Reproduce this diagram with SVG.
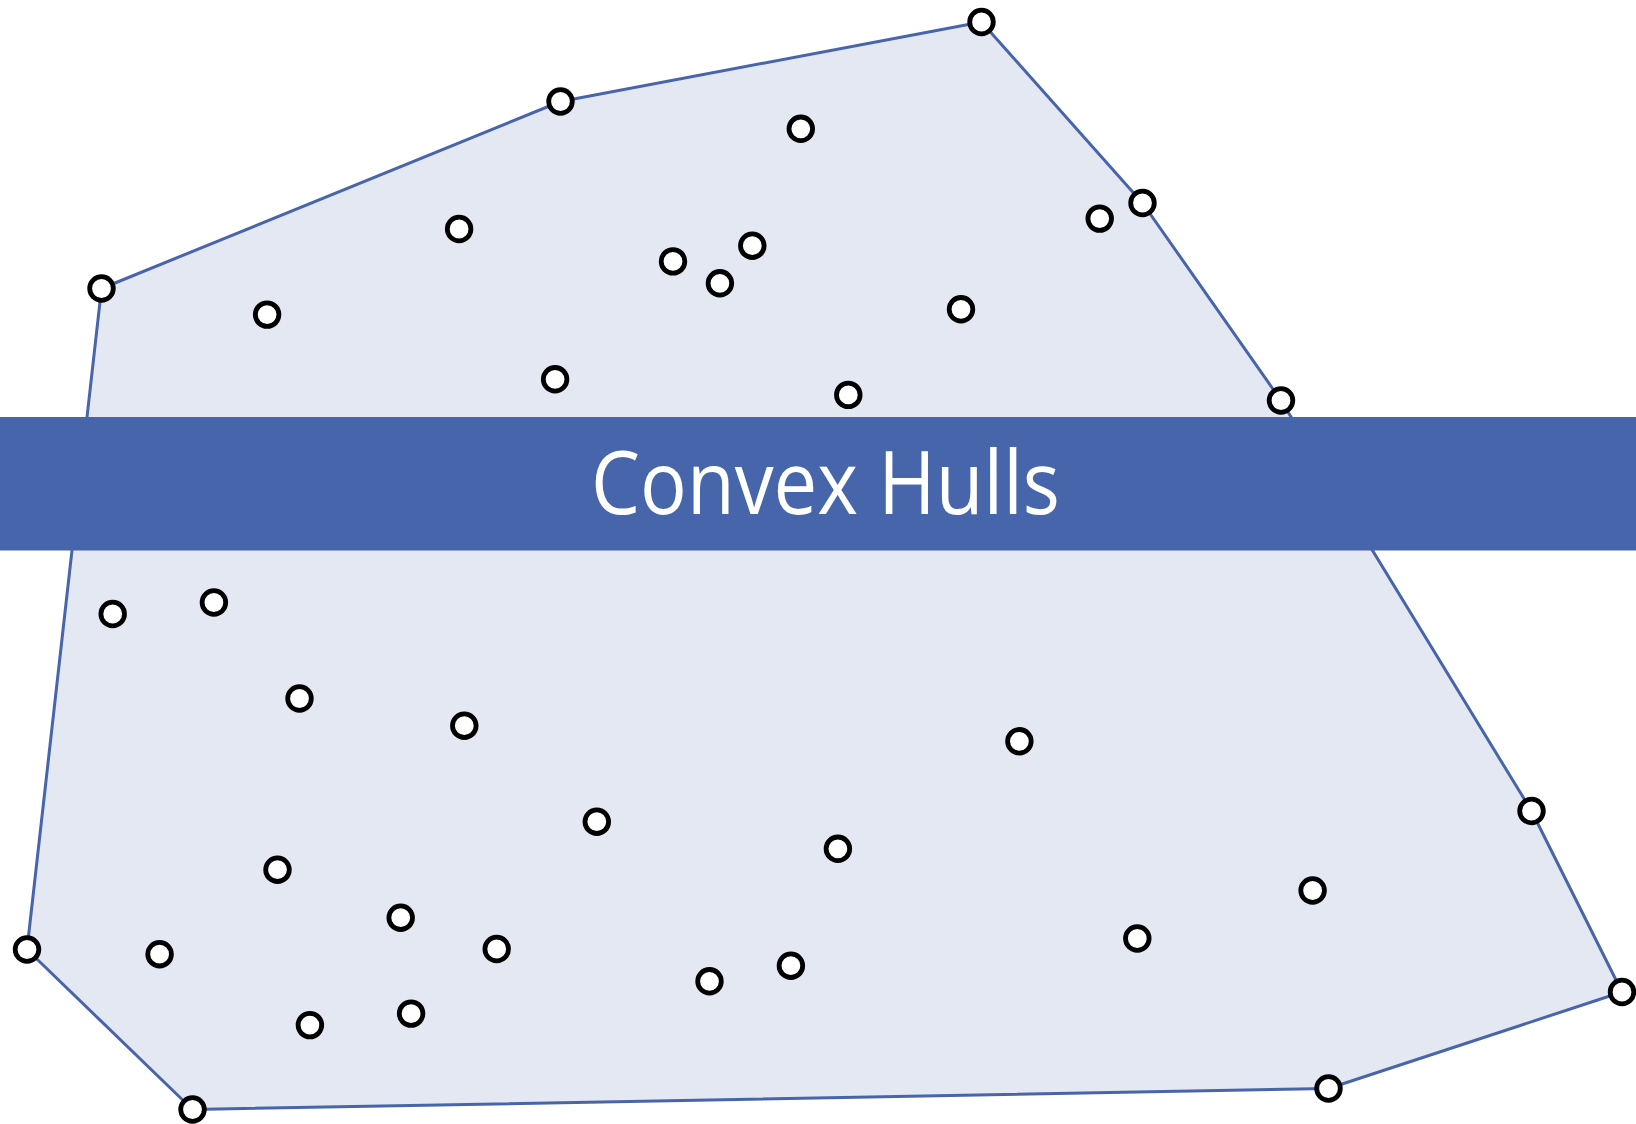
<svg xmlns="http://www.w3.org/2000/svg" width="1636" height="1124" viewBox="0 0 1636 1124">
<style>
.hull{fill:#E3E8F2;stroke:#4865AB;stroke-width:3;stroke-linejoin:round}
.pt{fill:#FFFFFF;stroke:#000000;stroke-width:4.8}
.band{fill:#4765AA}
.title{font-family:"Open Sans","Liberation Sans",sans-serif;font-size:88px;fill:#FFFFFF}
</style>
<g id="connectors">
<polygon class="hull" points="981.5,22 1142.5,203 1281,400.5 1531.5,811 1622,992 1328.5,1088.5 192.5,1109.5 27,949.5 101.5,288.5 560.5,101.5"/>
</g>
<g id="hull-points">
<circle id="h1" class="pt" cx="981.5" cy="22" r="11.8"/>
<circle id="h2" class="pt" cx="560.5" cy="101.5" r="11.8"/>
<circle id="h3" class="pt" cx="101.5" cy="288.5" r="11.8"/>
<circle id="h4" class="pt" cx="27" cy="949.5" r="11.8"/>
<circle id="h5" class="pt" cx="192.5" cy="1109.5" r="11.8"/>
<circle id="h6" class="pt" cx="1328.5" cy="1088.5" r="11.8"/>
<circle id="h7" class="pt" cx="1622" cy="992" r="11.8"/>
<circle id="h8" class="pt" cx="1531.5" cy="811" r="11.8"/>
<circle id="h9" class="pt" cx="1281" cy="400.5" r="11.8"/>
<circle id="h10" class="pt" cx="1142.5" cy="203" r="11.8"/>
</g>
<g id="interior-points">
<circle id="p1" class="pt" cx="800.8" cy="128.8" r="11.8"/>
<circle id="p2" class="pt" cx="1099.7" cy="218.6" r="11.8"/>
<circle id="p3" class="pt" cx="459.1" cy="229" r="11.8"/>
<circle id="p4" class="pt" cx="673" cy="261.4" r="11.8"/>
<circle id="p5" class="pt" cx="752.3" cy="245.7" r="11.8"/>
<circle id="p6" class="pt" cx="719.9" cy="283.3" r="11.8"/>
<circle id="p7" class="pt" cx="267.1" cy="314.6" r="11.8"/>
<circle id="p8" class="pt" cx="961" cy="309.3" r="11.8"/>
<circle id="p9" class="pt" cx="555.1" cy="379.3" r="11.8"/>
<circle id="p10" class="pt" cx="848.3" cy="394.9" r="11.8"/>
<circle id="p11" class="pt" cx="112.7" cy="614" r="11.8"/>
<circle id="p12" class="pt" cx="213.9" cy="602.5" r="11.8"/>
<circle id="p13" class="pt" cx="299.5" cy="698.5" r="11.8"/>
<circle id="p14" class="pt" cx="464.3" cy="725.7" r="11.8"/>
<circle id="p15" class="pt" cx="1019.4" cy="741.3" r="11.8"/>
<circle id="p16" class="pt" cx="596.8" cy="821.7" r="11.8"/>
<circle id="p17" class="pt" cx="837.9" cy="848.8" r="11.8"/>
<circle id="p18" class="pt" cx="277.5" cy="869.7" r="11.8"/>
<circle id="p19" class="pt" cx="1312.6" cy="890.5" r="11.8"/>
<circle id="p20" class="pt" cx="400.7" cy="917.7" r="11.8"/>
<circle id="p21" class="pt" cx="1137.3" cy="938.5" r="11.8"/>
<circle id="p22" class="pt" cx="159.6" cy="954.2" r="11.8"/>
<circle id="p23" class="pt" cx="496.7" cy="949" r="11.8"/>
<circle id="p24" class="pt" cx="790.9" cy="965.7" r="11.8"/>
<circle id="p25" class="pt" cx="709.5" cy="981.3" r="11.8"/>
<circle id="p26" class="pt" cx="309.9" cy="1025.1" r="11.8"/>
<circle id="p27" class="pt" cx="411.1" cy="1013.6" r="11.8"/>
</g>
<g id="title-band">
<rect class="band" x="0" y="417" width="1636" height="133.5"/>
<text class="title" x="591" y="513.5" textLength="469" lengthAdjust="spacingAndGlyphs">Convex Hulls</text>
</g>
</svg>
